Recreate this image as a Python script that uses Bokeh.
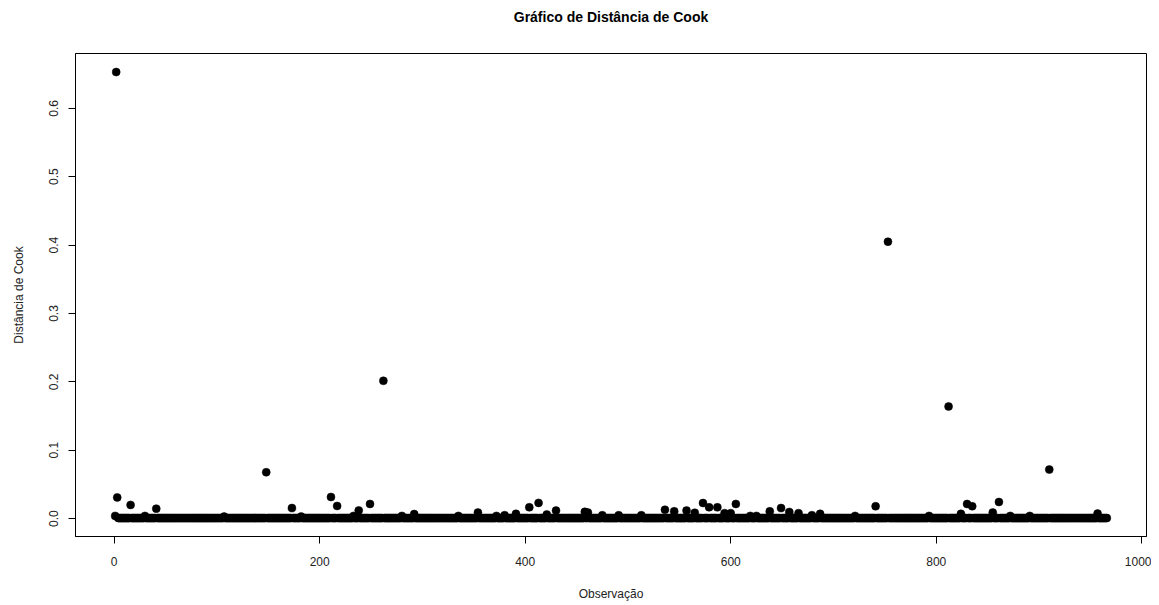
from bokeh.plotting import figure
from bokeh.models import Range1d, FixedTicker, NumeralTickFormatter, ColumnDataSource, LinearAxis
from bokeh.embed import file_html
from bokeh.resources import INLINE

# ---- data ----
n_obs = 966
baseline_value = 0.0008  # the bulk of observations sit at ~0

outlier_obs = [1, 2, 3, 16, 30, 41, 107, 148, 173, 182, 211, 217, 233, 238, 249,
               262, 280, 292, 335, 354, 372, 380, 391, 404, 413, 421, 430, 458,
               461, 475, 491, 513, 536, 545, 557, 565, 573, 579, 587, 594, 600,
               605, 619, 625, 638, 649, 657, 666, 679, 687, 721, 741, 753, 793,
               812, 824, 830, 835, 855, 861, 872, 891, 910, 957]
outlier_vals = [0.004, 0.653, 0.031, 0.020, 0.004, 0.0146, 0.003, 0.0678, 0.0155,
                0.003, 0.0316, 0.0185, 0.004, 0.012, 0.0214, 0.2015, 0.004, 0.0067,
                0.004, 0.009, 0.004, 0.005, 0.007, 0.0165, 0.023, 0.006, 0.0117,
                0.010, 0.009, 0.005, 0.005, 0.005, 0.013, 0.0107, 0.0117, 0.0085,
                0.0228, 0.0165, 0.0165, 0.008, 0.008, 0.0214, 0.004, 0.004, 0.0107,
                0.0155, 0.0097, 0.008, 0.005, 0.007, 0.004, 0.018, 0.405, 0.004,
                0.164, 0.007, 0.0214, 0.018, 0.009, 0.0243, 0.004, 0.004, 0.0717,
                0.0073]

x_ticks = [0, 200, 400, 600, 800, 1000]
y_ticks = [0.0, 0.1, 0.2, 0.3, 0.4, 0.5, 0.6]
title_text = "Gráfico de Distância de Cook"

obs = list(range(1, n_obs + 1))
lookup = dict(zip(outlier_obs, outlier_vals))
cook = [lookup.get(i, baseline_value) for i in obs]

src = ColumnDataSource(dict(x=obs, y=cook))

FONT = "Liberation Sans"
FRAME_W, FRAME_H = 1071, 483

p = figure(output_backend="svg", toolbar_location=None,
           frame_width=FRAME_W, frame_height=FRAME_H,
           x_range=Range1d(-37.6, 1004.6), y_range=Range1d(-0.02616, 0.68016),
           min_border_left=75, min_border_right=5, min_border_top=53, min_border_bottom=61)

p.scatter("x", "y", source=src, size=8, fill_color="black", line_color="black", line_width=0.5)

# title drawn as the label of an axis above the frame whose only tick lies off-range
title_axis = LinearAxis(ticker=FixedTicker(ticks=[-5000]), axis_label=title_text,
                        axis_line_color=None, major_tick_line_color=None,
                        minor_tick_line_color=None, major_tick_out=0, minor_tick_out=0,
                        major_label_text_color=None, major_label_standoff=0,
                        axis_label_standoff=29,
                        axis_label_text_font=FONT, axis_label_text_font_size="14px",
                        axis_label_text_font_style="bold", axis_label_text_color="black")
p.add_layout(title_axis, "above")

p.grid.visible = False
p.outline_line_color = "black"
p.outline_line_width = 1
p.background_fill_color = "white"
p.border_fill_color = "white"

xa = p.below[0]
ya = p.left[0]
xa.ticker = FixedTicker(ticks=x_ticks)
ya.ticker = FixedTicker(ticks=y_ticks)
ya.formatter = NumeralTickFormatter(format="0.0")
xa.formatter = NumeralTickFormatter(format="0")

for ax in (xa, ya):
    ax.axis_line_color = "black"
    ax.major_tick_line_color = "black"
    ax.minor_tick_line_color = None
    ax.major_tick_out = 7
    ax.major_tick_in = 0
    ax.major_label_text_font = FONT
    ax.major_label_text_font_size = "12px"
    ax.major_label_text_color = "#222222"
    ax.axis_label_text_font = FONT
    ax.axis_label_text_font_size = "12px"
    ax.axis_label_text_font_style = "normal"
    ax.axis_label_text_color = "#222222"

xa.axis_label = "Observação"
ya.axis_label = "Distância de Cook"
ya.major_label_orientation = "vertical"
xa.major_label_standoff = 13
ya.major_label_standoff = 10
xa.axis_label_standoff = 18
ya.axis_label_standoff = 21

open("out.html", "w").write(file_html(p, INLINE))
